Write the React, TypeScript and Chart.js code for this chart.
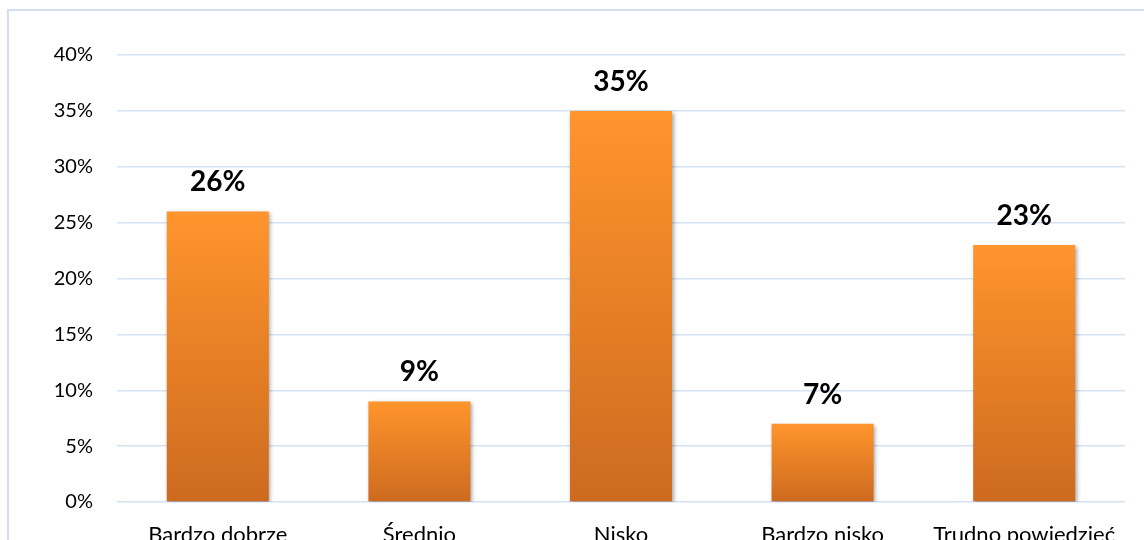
import React, { useEffect, useRef } from "react";
import { Chart, registerables } from "chart.js";

Chart.register(...registerables);

const categories = ["Bardzo dobrze", "Średnio", "Nisko", "Bardzo nisko", "Trudno powiedzieć"];
const values = [26, 9, 35, 7, 23];
const yTicks = [0, 5, 10, 15, 20, 25, 30, 35, 40];

const FONT = "Lato, 'Noto Sans', sans-serif";

export default function App() {
  const ref = useRef<HTMLCanvasElement | null>(null);

  useEffect(() => {
    const canvas = ref.current;
    if (!canvas) return;

    const frame = {
      id: "frame",
      beforeDraw(chart: any) {
        const ctx = chart.ctx;
        ctx.save();
        ctx.fillStyle = "#ffffff";
        ctx.fillRect(0, 0, chart.width, chart.height);
        ctx.strokeStyle = "#d3deef";
        ctx.lineWidth = 2;
        ctx.strokeRect(8, 10, 1300, 700);
        ctx.restore();
      },
      beforeDatasetsDraw(chart: any) {
        const ctx = chart.ctx;
        ctx.save();
        ctx.shadowColor = "rgba(0,0,0,0.35)";
        ctx.shadowBlur = 4;
        ctx.shadowOffsetX = 1.5;
        ctx.shadowOffsetY = 2;
      },
      afterDatasetsDraw(chart: any) {
        const ctx = chart.ctx;
        ctx.restore();
        ctx.save();
        ctx.font = `bold 28px ${FONT}`;
        ctx.fillStyle = "#000000";
        ctx.textAlign = "center";
        ctx.textBaseline = "alphabetic";
        const meta = chart.getDatasetMeta(0);
        meta.data.forEach((el: any, i: number) => {
          ctx.fillText(`${values[i]}%`, el.x, el.y - 20);
        });
        ctx.restore();
      },
    };

    const chart = new Chart(canvas, {
      type: "bar",
      data: {
        labels: categories,
        datasets: [
          {
            data: values,
            backgroundColor: (c: any) => {
              const chartObj = c.chart;
              const y = chartObj.scales?.y;
              if (!y || c.type !== "data") return "#f08a2a";
              const top = y.getPixelForValue(c.raw);
              const bottom = y.getPixelForValue(0);
              if (!isFinite(top) || !isFinite(bottom) || top === bottom) return "#f08a2a";
              const g = chartObj.ctx.createLinearGradient(0, top, 0, bottom);
              g.addColorStop(0, "#ff952d");
              g.addColorStop(1, "#cd6a1f");
              return g;
            },
            borderWidth: 0,
            categoryPercentage: 1,
            barPercentage: 0.506,
          },
        ],
      },
      options: {
        animation: false,
        responsive: false,
        maintainAspectRatio: false,
        layout: { padding: { top: 55, right: 19, bottom: 0, left: 0 } },
        plugins: {
          legend: { display: false },
          tooltip: { enabled: false },
        },
        scales: {
          x: {
            grid: { display: false, drawTicks: false },
            border: { display: false },
            ticks: {
              color: "#000000",
              font: { family: FONT, size: 22 },
              padding: 20,
              maxRotation: 0,
              autoSkip: false,
            },
            afterFit: (s: any) => {
              s.height = 58;
            },
          },
          y: {
            min: 0,
            max: 40,
            afterBuildTicks: (s: any) => {
              s.ticks = yTicks.map((v) => ({ value: v }));
            },
            grid: { color: "#d6e1f2", lineWidth: 1.5, drawTicks: false },
            border: { display: false },
            ticks: {
              color: "#000000",
              font: { family: FONT, size: 20 },
              padding: 24,
              callback: (v: any) => `${v}%`,
            },
            afterFit: (s: any) => {
              s.width = 117;
            },
          },
        },
      },
      plugins: [frame],
    });

    return () => chart.destroy();
  }, []);

  return (
    <div
      style={{
        position: "fixed",
        left: 0,
        top: 0,
        width: 1144,
        height: 540,
        overflow: "hidden",
        background: "#ffffff",
      }}
    >
      <canvas ref={ref} width={1144} height={560} style={{ display: "block", width: 1144, height: 560 }} />
    </div>
  );
}
